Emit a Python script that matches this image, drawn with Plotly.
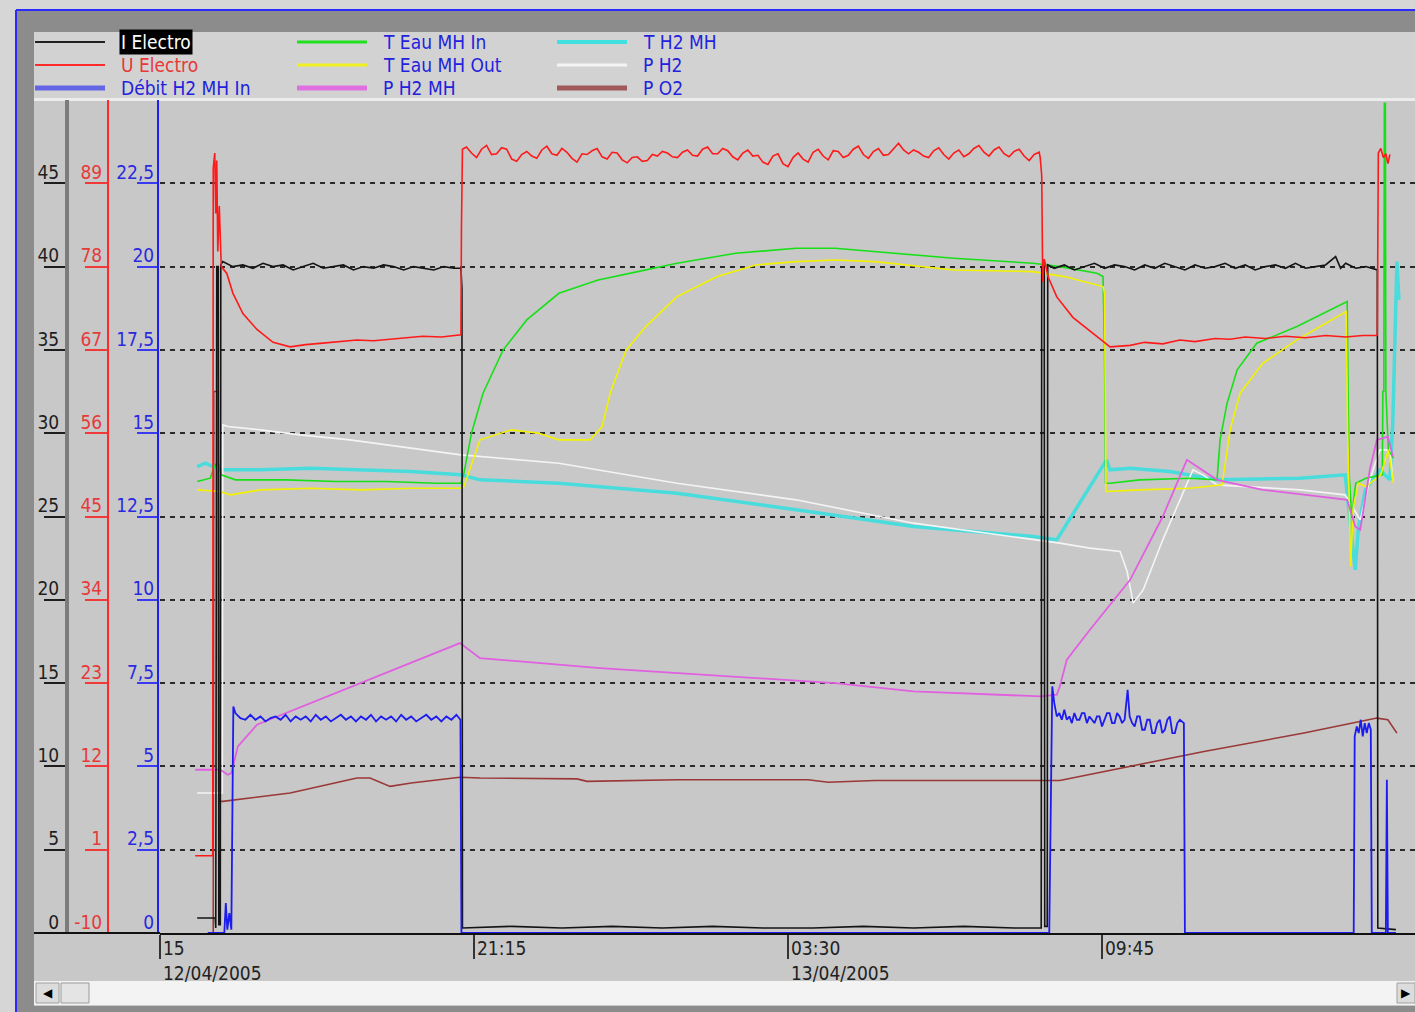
import plotly.graph_objects as go

W, H = 1415, 1012

# ---------------- data (time in hours after 12/04/2005 15:00) ----------------
x_tickvals = [0, 6.25, 12.5, 18.75]
x_ticktext = ["15<br>12/04/2005", "21:15", "03:30<br>13/04/2005", "09:45"]

black_ticks = [0, 5, 10, 15, 20, 25, 30, 35, 40, 45]
red_ticks = [-10, 1, 12, 23, 34, 45, 56, 67, 78, 89]
red_ticktext = ["-10", "1", "12", "23", "34", "45", "56", "67", "78", "89"]
blue_ticks = [0, 2.5, 5, 7.5, 10, 12.5, 15, 17.5, 20, 22.5]
blue_ticktext = ["0", "2,5", "5", "7,5", "10", "12,5", "15", "17,5", "20", "22,5"]

i_electro = [
    (0.74, 0.9), (1.10, 0.9), (1.11, 0.3), (1.13, 40.0), (1.16, 40.0), (1.17, 0.5), (1.20, 0.5), (1.21, 40.1),
    (1.25, 40.3), (1.45, 40.0), (1.65, 40.1), (1.85, 39.9), (2.05, 40.2), (2.25, 40.0), (2.45, 40.1), (2.65, 39.8),
    (2.85, 40.0), (3.05, 40.2), (3.25, 39.9), (3.45, 40.0), (3.65, 40.1), (3.85, 39.8), (4.05, 40.0), (4.25, 39.9),
    (4.45, 40.1), (4.65, 40.0), (4.85, 39.8), (5.05, 40.0), (5.25, 39.9), (5.45, 39.8), (5.65, 40.0), (5.85, 39.9),
    (5.99, 39.9), (6.00, 38.7), (6.01, 38.7), (6.02, 0.3), (7.0, 0.4), (8.0, 0.3), (9.0, 0.4), (10.0, 0.3),
    (11.0, 0.4), (12.0, 0.3), (13.0, 0.3), (14.0, 0.4), (15.0, 0.3), (16.0, 0.4), (17.0, 0.3), (17.54, 0.3),
    (17.55, 40.0), (17.60, 40.1), (17.61, 0.4), (17.66, 0.4), (17.67, 40.1),
    (17.8, 39.9), (18.0, 40.1), (18.2, 39.8), (18.4, 40.0), (18.6, 40.2), (18.8, 39.9), (19.0, 40.1), (19.2, 40.0),
    (19.4, 39.8), (19.6, 40.1), (19.8, 39.9), (20.0, 40.2), (20.2, 40.0), (20.4, 39.8), (20.6, 40.1), (20.8, 39.9),
    (21.0, 40.0), (21.2, 40.2), (21.4, 39.9), (21.6, 40.1), (21.8, 39.8), (22.0, 40.0), (22.2, 40.1), (22.4, 39.9),
    (22.6, 40.2), (22.8, 39.9), (23.0, 40.0), (23.2, 40.1), (23.4, 40.6), (23.5, 39.9), (23.6, 40.2), (23.8, 39.9),
    (24.0, 40.0), (24.2, 39.8), (24.23, 39.8), (24.24, 0.3), (24.6, 0.2),
]

u_electro_start = [
    (0.70, 0.2), (1.05, 0.2), (1.06, 91.0), (1.09, 93.0), (1.11, 85.0), (1.13, 92.0), (1.15, 80.0), (1.18, 86.0),
    (1.22, 78.0), (1.33, 77.1), (1.45, 74.5), (1.65, 71.8), (1.93, 69.7), (2.25, 68.0), (2.59, 67.4), (2.9, 67.7),
    (3.24, 67.9), (3.6, 68.1), (3.92, 68.3), (4.25, 68.2), (4.58, 68.4), (4.9, 68.6), (5.23, 68.8), (5.6, 68.7),
    (5.93, 68.9), (5.99, 69.0), (6.00, 83.0), (6.02, 93.5),
]
# plateau readings, one every 6 minutes from 6.1 h to 17.5 h
u_electro_plateau = [
    93.8, 93.0, 92.4, 93.5, 94.0, 92.8, 92.9, 93.7, 93.5, 92.2,
    91.9, 92.8, 93.2, 92.6, 92.3, 93.4, 93.9, 92.9, 92.7, 93.6,
    93.1, 92.3, 91.8, 92.9, 92.8, 93.3, 93.6, 92.5, 92.2, 93.1,
    93.0, 92.1, 91.7, 92.4, 92.5, 91.9, 92.0, 92.8, 92.6, 93.2,
    93.0, 92.5, 92.4, 93.1, 93.4, 92.7, 92.6, 93.5, 93.8, 92.9,
    92.9, 93.6, 93.3, 92.5, 92.1, 93.0, 93.4, 92.6, 92.7, 91.8,
    91.5, 92.6, 92.9, 91.6, 91.2, 92.4, 93.0, 92.2, 91.8, 93.1,
    93.5, 92.6, 92.1, 93.3, 93.2, 92.4, 92.7, 93.5, 93.9, 92.8,
    92.3, 93.2, 93.6, 92.7, 92.8, 93.6, 94.3, 93.4, 92.9, 93.4,
    93.1, 92.6, 92.4, 93.3, 93.7, 92.8, 92.2, 93.0, 93.4, 92.5,
    92.9, 93.6, 94.0, 93.1, 92.6, 93.4, 93.8, 92.9, 92.5, 93.2,
    93.5, 92.6, 92.0, 92.8, 93.1,
]
u_electro_end = [
    (17.52, 92.4), (17.55, 90.0), (17.57, 76.0), (17.60, 79.0), (17.68, 76.6), (17.85, 74.0), (18.17, 71.3),
    (18.65, 68.7), (18.91, 67.4), (19.31, 67.6), (19.6, 68.0), (19.96, 67.8), (20.3, 68.3), (20.6, 68.1),
    (21.0, 68.5), (21.3, 68.4), (21.6, 68.7), (22.0, 68.5), (22.4, 68.8), (22.8, 68.6), (23.2, 68.9), (23.6, 68.7),
    (23.94, 68.9), (24.22, 68.9), (24.23, 69.0), (24.25, 93.0), (24.30, 93.6), (24.35, 92.4), (24.40, 92.9),
    (24.44, 91.6), (24.48, 92.8),
]

debit_start = [
    (0.95, 0.0), (1.28, 0.0), (1.31, 0.9), (1.34, 0.1), (1.38, 0.6), (1.42, 0.1), (1.46, 6.8), (1.50, 6.6),
]
# readings every 6 minutes from 1.6 h to 5.9 h
debit_plateau = [
    6.45, 6.4, 6.55, 6.4, 6.5, 6.35, 6.45, 6.5, 6.4, 6.55,
    6.35, 6.5, 6.4, 6.5, 6.35, 6.55, 6.4, 6.5, 6.35, 6.45,
    6.55, 6.4, 6.5, 6.35, 6.5, 6.4, 6.55, 6.35, 6.5, 6.4,
    6.5, 6.35, 6.55, 6.4, 6.5, 6.35, 6.45, 6.55, 6.4, 6.5,
    6.35, 6.5, 6.4, 6.55,
]
debit_end = [
    (5.98, 6.4), (6.00, 0.0), (17.70, 0.0), (17.76, 7.4),
    (17.80, 6.9), (17.85, 6.5), (17.9, 6.6), (17.95, 6.4), (18.0, 6.7), (18.05, 6.4), (18.1, 6.5), (18.15, 6.3),
    (18.2, 6.6), (18.25, 6.4), (18.3, 6.4), (18.35, 6.6), (18.4, 6.6), (18.45, 6.3), (18.5, 6.5), (18.55, 6.4),
    (18.6, 6.3), (18.65, 6.5), (18.7, 6.5), (18.75, 6.2), (18.8, 6.4), (18.85, 6.6), (18.9, 6.6), (18.95, 6.3),
    (19.0, 6.3), (19.05, 6.6), (19.1, 6.5), (19.15, 6.3), (19.2, 6.4), (19.26, 7.3), (19.30, 6.5), (19.35, 6.3),
    (19.4, 6.2), (19.45, 6.5), (19.5, 6.5), (19.55, 6.1), (19.6, 6.1), (19.65, 6.4), (19.7, 6.4), (19.75, 6.0),
    (19.8, 6.0), (19.85, 6.3), (19.9, 6.4), (19.95, 6.0), (20.0, 6.1), (20.05, 6.4), (20.1, 6.5), (20.15, 6.0),
    (20.2, 6.0), (20.25, 6.3), (20.3, 6.4), (20.38, 6.3), (20.40, 0.0), (23.76, 0.0), (23.78, 5.9), (23.82, 6.2),
    (23.86, 6.0), (23.90, 6.4), (23.94, 5.9), (23.98, 6.3), (24.02, 6.0), (24.06, 6.3), (24.10, 6.1),
    (24.12, 0.0), (24.40, 0.0), (24.42, 4.6), (24.44, 0.0), (24.6, 0.0),
]

t_eau_mh_in = [
    (0.74, 27.1), (1.0, 27.3), (1.08, 28.0), (1.15, 28.3), (1.22, 27.5), (1.5, 27.2), (2.5, 27.2), (3.5, 27.1),
    (4.5, 27.1), (5.5, 27.0), (5.99, 27.0), (6.05, 27.6), (6.20, 30.0), (6.43, 32.4), (6.83, 35.0), (7.30, 36.8),
    (7.94, 38.4), (8.72, 39.2), (9.51, 39.7), (10.29, 40.2), (11.46, 40.8), (12.66, 41.1), (13.44, 41.1),
    (14.63, 40.8), (15.80, 40.5), (17.38, 40.2), (17.91, 40.0), (18.65, 39.6), (18.77, 39.4), (18.80, 35.0),
    (18.82, 27.0), (18.91, 27.0), (19.5, 27.2), (20.5, 27.3), (21.04, 27.2), (21.10, 29.6), (21.24, 31.8),
    (21.44, 33.8), (21.83, 35.4), (22.63, 36.4), (23.63, 37.9), (23.65, 32.0), (23.67, 27.5), (23.72, 25.0),
    (23.80, 27.0), (24.0, 27.3), (24.33, 27.5), (24.34, 32.5), (24.36, 32.5), (24.37, 49.8), (24.39, 49.8),
    (24.40, 32.5), (24.45, 29.0), (24.55, 28.5),
]

t_eau_mh_out = [
    (0.74, 26.6), (1.2, 26.5), (1.4, 26.3), (2.0, 26.6), (3.0, 26.7), (4.0, 26.6), (5.0, 26.7), (5.99, 26.7),
    (6.05, 26.8), (6.37, 29.6), (6.99, 30.2), (7.54, 30.0), (7.94, 29.6), (8.56, 29.6), (8.80, 30.4), (8.96, 32.4),
    (9.28, 35.0), (9.67, 36.4), (10.29, 38.2), (11.09, 39.4), (11.86, 40.1), (12.66, 40.3), (13.44, 40.4),
    (14.23, 40.3), (15.80, 39.8), (17.38, 39.7), (18.0, 39.4), (18.77, 38.8), (18.80, 38.4), (18.83, 26.5),
    (19.5, 26.6), (20.5, 26.7), (21.14, 26.9), (21.30, 30.2), (21.50, 32.4), (21.95, 34.2), (22.63, 35.6),
    (23.59, 37.3), (23.61, 37.3), (23.64, 30.0), (23.70, 22.0), (23.75, 25.5), (23.85, 27.0), (24.0, 26.8),
    (24.30, 27.5), (24.45, 29.0), (24.55, 27.0),
]

p_h2_mh = [
    (0.70, 9.8), (1.20, 9.8), (1.35, 9.5), (1.42, 9.6), (1.55, 11.2), (1.93, 12.5), (5.97, 17.4), (6.37, 16.5),
    (8.76, 15.9), (10.29, 15.6), (13.44, 15.0), (15.0, 14.5), (17.54, 14.2), (17.85, 14.3), (17.91, 14.8),
    (18.05, 16.4), (18.51, 18.2), (19.31, 21.2), (19.96, 25.0), (20.44, 28.4), (21.04, 27.2), (21.95, 26.6),
    (23.63, 26.0), (23.79, 24.4), (23.89, 24.2), (24.08, 27.8), (24.22, 29.6), (24.44, 29.8), (24.54, 28.6),
]

t_h2_mh = [
    (0.74, 28.0), (0.9, 28.2), (1.2, 27.8), (2.0, 27.8), (3.0, 27.9), (4.0, 27.8), (5.0, 27.7), (5.98, 27.5),
    (6.37, 27.2), (7.94, 27.0), (10.29, 26.4), (12.66, 25.4), (15.0, 24.4), (17.38, 23.8), (17.85, 23.6),
    (18.84, 28.4), (18.91, 27.8), (19.31, 27.9), (20.1, 27.7), (21.04, 27.2), (22.69, 27.3), (23.59, 27.5),
    (23.69, 24.8), (23.79, 21.8), (23.85, 24.2), (23.99, 26.6), (24.28, 27.8), (24.48, 27.2), (24.54, 30.8),
    (24.62, 40.3), (24.66, 38.0),
]

p_h2 = [
    (0.74, 8.4), (1.24, 8.4), (1.25, 30.5), (1.35, 30.4), (2.0, 30.2), (2.79, 29.9), (3.78, 29.6), (4.78, 29.2),
    (5.99, 28.7), (7.94, 28.2), (10.29, 27.0), (12.66, 26.0), (15.0, 24.6), (17.91, 23.4), (18.51, 23.1),
    (19.11, 22.9), (19.25, 21.7), (19.37, 19.8), (19.57, 20.6), (19.96, 23.6), (20.56, 27.8), (20.76, 27.5),
    (21.04, 26.9), (22.69, 26.6), (23.59, 26.3), (23.89, 24.8), (24.08, 27.2), (24.28, 29.0), (24.48, 29.0),
    (24.54, 27.2),
]

p_o2 = [
    (1.06, 0.0), (1.07, 32.5), (1.16, 32.5), (1.17, 7.9), (1.25, 7.9), (2.59, 8.4), (3.92, 9.3), (4.18, 9.3),
    (4.58, 8.8), (5.0, 9.0), (5.97, 9.35), (6.37, 9.3), (8.3, 9.25), (8.5, 9.1), (10.29, 9.2), (12.9, 9.2),
    (13.3, 9.05), (14.23, 9.15), (17.91, 9.15), (18.79, 9.7), (20.78, 10.9), (22.77, 12.0), (24.22, 12.9),
    (24.44, 12.8), (24.62, 12.0),
]

# sampling times of the regularly logged plateaus
u_plateau_t = [round(6.1 + 0.1 * i, 2) for i in range(len(u_electro_plateau))]
debit_plateau_t = [round(1.6 + 0.1 * i, 2) for i in range(len(debit_plateau))]
u_electro = u_electro_start + list(zip(u_plateau_t, u_electro_plateau)) + u_electro_end
debit_h2 = debit_start + list(zip(debit_plateau_t, debit_plateau)) + debit_end

# name, data, axis, data colour, data width, legend colour, legend width, label colour
series = [
    ("P O2", p_o2, "y", "#9a3838", 1.6, "#a05a5a", 5, "#2222dd"),
    ("T H2 MH", t_h2_mh, "y", "#48dcdc", 3.5, "#40e0e0", 4, "#2222dd"),
    ("P H2", p_h2, "y", "#f4f4f4", 1.6, "#f4f4f4", 3, "#2222dd"),
    ("T Eau MH In", t_eau_mh_in, "y", "#18e018", 1.6, "#20e020", 3, "#2222dd"),
    ("T Eau MH Out", t_eau_mh_out, "y", "#f2f200", 1.6, "#f0f020", 3, "#2222dd"),
    ("P H2 MH", p_h2_mh, "y", "#e060e0", 1.8, "#e070e0", 5, "#2222dd"),
    ("Débit H2 MH In", debit_h2, "y3", "#1c1cee", 1.8, "#6464e6", 5, "#2222dd"),
    ("U Electro", u_electro, "y2", "#ff1a1a", 1.6, "#ff2a2a", 2, "#e83838"),
    ("I Electro", i_electro, "y", "#141414", 1.6, "#202020", 2, "#ffffff"),
]
legend_order = ["I Electro", "U Electro", "Débit H2 MH In",
                "T Eau MH In", "T Eau MH Out", "P H2 MH",
                "T H2 MH", "P H2", "P O2"]

# ---------------- figure ----------------
def px(x):
    return x / W


def py(y):
    return 1 - y / H


fig = go.Figure()
for name, data, ax, col, lw, _, _, _ in series:
    fig.add_trace(go.Scatter(
        x=[p[0] for p in data], y=[p[1] for p in data], mode="lines", name=name,
        yaxis=ax, line=dict(color=col, width=lw), showlegend=False, hoverinfo="skip"))

FONT = "Liberation Sans Narrow, DejaVu Sans Condensed, Liberation Sans, Arial, sans-serif"
y_bot, y_top = 933, 100
ydom = [py(y_bot), py(y_top)]

shapes = []
# frame
shapes.append(dict(type="rect", xref="paper", yref="paper", x0=px(17), x1=1, y0=0, y1=py(11),
                   fillcolor="#8c8c8c", line=dict(width=0), layer="below"))
shapes.append(dict(type="rect", xref="paper", yref="paper", x0=px(34), x1=1, y0=py(1006), y1=py(32),
                   fillcolor="#c8c8c8", line=dict(width=0), layer="below"))
shapes.append(dict(type="rect", xref="paper", yref="paper", x0=px(34), x1=1, y0=py(98), y1=py(32),
                   fillcolor="#d2d2d2", line=dict(width=0), layer="below"))
shapes.append(dict(type="line", xref="paper", yref="paper", x0=px(34), x1=1, y0=py(99.5), y1=py(99.5),
                   line=dict(color="#ececec", width=3), layer="below"))
shapes.append(dict(type="line", xref="paper", yref="paper", x0=px(16), x1=1, y0=py(10), y1=py(10),
                   line=dict(color="#2a2aff", width=2), layer="below"))
shapes.append(dict(type="line", xref="paper", yref="paper", x0=px(16), x1=px(16), y0=0, y1=py(10),
                   line=dict(color="#2a2aff", width=2), layer="below"))
# scrollbar
shapes.append(dict(type="rect", xref="paper", yref="paper", x0=px(34), x1=1, y0=py(1005), y1=py(981),
                   fillcolor="#f3f3f3", line=dict(width=0), layer="below"))
shapes.append(dict(type="rect", xref="paper", yref="paper", x0=px(36), x1=px(59), y0=py(1003), y1=py(983),
                   fillcolor="#dcdcdc", line=dict(color="#a0a0a0", width=1), layer="below"))
shapes.append(dict(type="rect", xref="paper", yref="paper", x0=px(61), x1=px(89), y0=py(1003), y1=py(983),
                   fillcolor="#e4e4e4", line=dict(color="#9a9a9a", width=1), layer="below"))
shapes.append(dict(type="rect", xref="paper", yref="paper", x0=px(1397), x1=px(1415), y0=py(1003), y1=py(983),
                   fillcolor="#dcdcdc", line=dict(color="#a0a0a0", width=1), layer="below"))
# baseline extension to the left of the plot
shapes.append(dict(type="line", xref="paper", yref="paper", x0=px(34), x1=px(160), y0=py(y_bot), y1=py(y_bot),
                   line=dict(color="#111111", width=2)))

annotations = [
    dict(text="◀", xref="paper", yref="paper", x=px(47.5), y=py(993), xanchor="center", yanchor="middle",
         showarrow=False, font=dict(size=12, color="#000000", family="DejaVu Sans")),
    dict(text="▶", xref="paper", yref="paper", x=px(1406), y=py(993), xanchor="center", yanchor="middle",
         showarrow=False, font=dict(size=12, color="#000000", family="DejaVu Sans")),
]

# x tick labels: to the right of each tick, below the axis
for tv, tt in zip(x_tickvals, x_ticktext):
    annotations.append(dict(text=tt, xref="x", yref="paper", x=tv, y=py(935), xanchor="left", yanchor="top",
                            align="left", showarrow=False, xshift=1,
                            font=dict(size=19, color="#222222", family=FONT)))

# manual legend, 3 columns x 3 rows
style = {s[0]: s for s in series}
col_line_x = [(35, 105), (297, 367), (557, 627)]
col_text_x = [119, 381, 641]
row_y = [42, 65, 88]
for k, name in enumerate(legend_order):
    c, r = divmod(k, 3)
    _, _, _, _, _, lcol, lw, tcol = style[name]
    shapes.append(dict(type="line", xref="paper", yref="paper", x0=px(col_line_x[c][0]), x1=px(col_line_x[c][1]),
                       y0=py(row_y[r]), y1=py(row_y[r]), line=dict(color=lcol, width=lw)))
    ann = dict(text=name, xref="paper", yref="paper", x=px(col_text_x[c]), y=py(row_y[r]),
               xanchor="left", yanchor="middle", showarrow=False,
               font=dict(size=19, color=tcol, family=FONT))
    if name == "I Electro":
        ann.update(bgcolor="#000000", borderpad=1)
    annotations.append(ann)

axis_font = dict(size=19, family=FONT)
fig.update_layout(
    width=W, height=H, margin=dict(l=0, r=0, t=0, b=0),
    paper_bgcolor="#d6d6d6", plot_bgcolor="rgba(0,0,0,0)",
    showlegend=False, shapes=shapes, annotations=annotations,
    xaxis=dict(domain=[px(160), 1], range=[0, 24.98], anchor="y",
               showline=True, linecolor="#111111", linewidth=2, mirror=False,
               ticks="outside", ticklen=24, tickwidth=2, tickcolor="#333333",
               tickvals=x_tickvals, showticklabels=False,
               showgrid=False, zeroline=False),
    yaxis=dict(domain=ydom, range=[0, 50], anchor="free", position=px(67), side="left",
               showline=True, linecolor="#7c7c7c", linewidth=4,
               ticks="outside", ticklen=21, tickwidth=2, tickcolor="#1e1e1e",
               tickvals=black_ticks, ticklabelshift=-11, ticklabelstandoff=-19,
               tickfont=dict(axis_font, color="#1e1e1e"),
               showgrid=True, gridcolor="#2a2a2a", gridwidth=1.5, griddash="5px,5px", zeroline=False),
    yaxis2=dict(domain=ydom, range=[-10, 100], overlaying="y", anchor="free", position=px(108), side="left",
                showline=True, linecolor="#ff2a2a", linewidth=2,
                ticks="outside", ticklen=22, tickwidth=2, tickcolor="#f03a3a",
                tickvals=red_ticks, ticktext=red_ticktext, ticklabelshift=-11, ticklabelstandoff=-21,
                tickfont=dict(axis_font, color="#e63a3a"),
                showgrid=False, zeroline=False),
    yaxis3=dict(domain=ydom, range=[0, 25], overlaying="y", anchor="free", position=px(158), side="left",
                showline=True, linecolor="#2020f0", linewidth=2,
                ticks="outside", ticklen=20, tickwidth=2, tickcolor="#3a3af0",
                tickvals=blue_ticks, ticktext=blue_ticktext, ticklabelshift=-11, ticklabelstandoff=-21,
                tickfont=dict(axis_font, color="#2a2ae0"),
                showgrid=False, zeroline=False),
)

fig.write_html("out.html", config={"displayModeBar": False},
               post_script="document.body.style.margin='0';document.body.style.overflow='hidden';")
